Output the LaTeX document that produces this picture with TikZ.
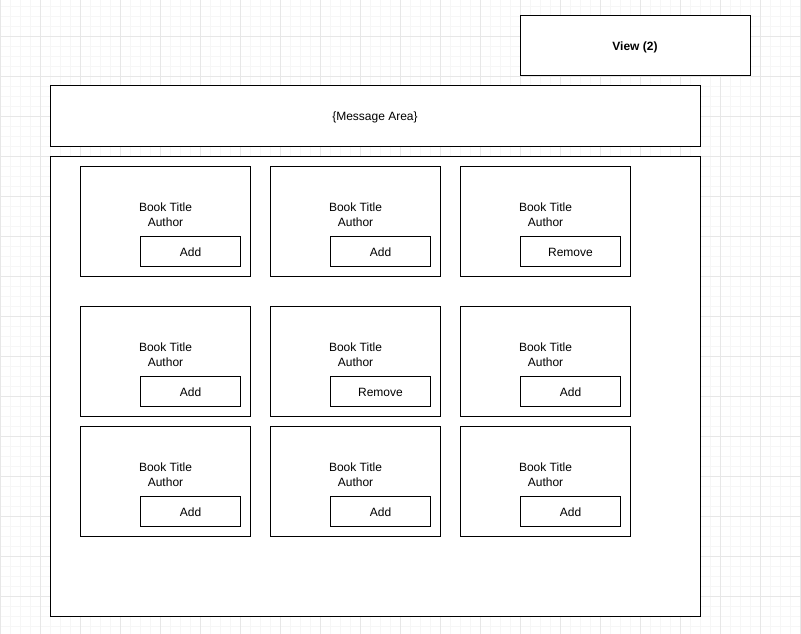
\documentclass[tikz,border=0pt]{standalone}
\usepackage{fontspec}
\setmainfont{Liberation Sans}
\begin{document}
\begin{tikzpicture}[x=1pt,y=-1pt,
  box/.style={draw=black,fill=white,line width=1pt},
  lbl/.style={font=\fontsize{12}{15}\selectfont,inner sep=0pt,align=center},
  minorgrid/.style={draw={rgb,255:red,246;green,246;blue,246},line width=0.8pt},
  majorgrid/.style={draw={rgb,255:red,231;green,231;blue,231},line width=0.8pt}]
\useasboundingbox (0,0) rectangle (801,634);
\fill[white] (0,0) rectangle (801,634);
% grid
\foreach \i in {0,...,80} {\draw[minorgrid] (\i*10,0) -- (\i*10,634);}
\foreach \j in {0,...,64} {\draw[minorgrid] (0,\j*10-4) -- (801,\j*10-4);}
\foreach \i in {0,...,20} {\draw[majorgrid] (\i*40,0) -- (\i*40,634);}
\foreach \j in {0,...,16} {\draw[majorgrid] (0,\j*40-4) -- (801,\j*40-4);}
% top boxes
\draw[box] (520,16) rectangle (750,76);
\node[lbl,font=\fontsize{12}{15}\selectfont\bfseries] (view) at (635,47.5) {View (2)};
\draw[box] (50,86) rectangle (700,146);
\node[lbl] (msg) at (375,117.5) {\{Message Area\}};
\draw[box] (50,156) rectangle (700,616);
% cards
\foreach \c/\r/\b in {0/0/Add,1/0/Add,2/0/Remove,0/1/Add,1/1/Remove,2/1/Add,0/2/Add,1/2/Add,2/2/Add} {
  \pgfmathsetmacro{\cx}{80+190*\c}
  \pgfmathsetmacro{\cy}{\r==0 ? 166 : (\r==1 ? 306 : 426)}
  \draw[box] (\cx,\cy) rectangle ({\cx+170},{\cy+110});
  \node[lbl] (t\c\r) at ({\cx+85.5},{\cy+49}) {Book Title\\Author};
  \draw[box] ({\cx+60},{\cy+70}) rectangle ({\cx+160},{\cy+100});
  \node[lbl] (b\c\r) at ({\cx+110.5},{\cy+86.5}) {\b};
}
\end{tikzpicture}
\end{document}
